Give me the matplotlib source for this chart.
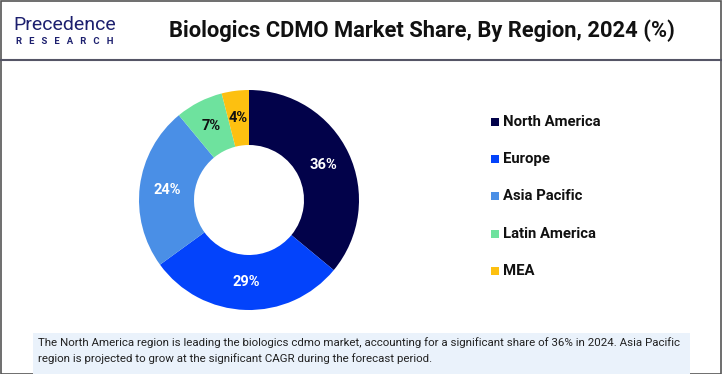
import matplotlib
matplotlib.use("Agg")
import matplotlib.pyplot as plt
from matplotlib.patches import Rectangle
from matplotlib.lines import Line2D

regions = ["North America", "Europe", "Asia Pacific", "Latin America", "MEA"]
shares = [36, 29, 24, 7, 4]
colors = ["#02024a", "#0343fb", "#4a8fe6", "#6ee29e", "#fdc010"]
label_colors = ["white", "white", "white", "#111111", "#111111"]

title = "Biologics CDMO Market Share, By Region, 2024 (%)"
note_lines = ["The North America region is leading the biologics cdmo market, accounting for a significant share of 36% in 2024. Asia Pacific",
              "region is projected to grow at the significant CAGR during the forecast period."]

W, H = 722, 374
fig = plt.figure(figsize=(W/100, H/100), dpi=100)
fig.patch.set_facecolor("white")
renderer = fig.canvas.get_renderer()

def fx(x): return x / W
def fy(y): return 1 - y / H

def fit(t, target_px):
    bb = t.get_window_extent(renderer=renderer)
    t.set_fontsize(t.get_fontsize() * target_px / bb.width)
    return t

# outer border
fig.add_artist(Rectangle((0.5/W, 0.5/H), 1 - 1.5/W, 1 - 1.5/H, transform=fig.transFigure,
                         fill=False, edgecolor="#555555", lw=1.2))
# header separator
fig.add_artist(Line2D([0, 1], [fy(60), fy(60)], transform=fig.transFigure, color="#555566", lw=1.5))

# logo
t = fig.text(fx(13), fy(25), "Precedence", fontsize=13, color="#1c1f6e", family="Roboto",
             va="center", ha="left")
fit(t, 102)
t = fig.text(fx(16), fy(41), "R   E   S   E   A   R   C   H", fontsize=6, color="#1c1f6e", family="Roboto",
             va="center", ha="left", fontweight="bold")
fit(t, 98)

# title
t = fig.text(fx(422), fy(31), title, fontsize=14, fontweight="bold", color="#111111",
             family="Roboto", va="center", ha="center")
fit(t, 508)

# note box
fig.add_artist(Rectangle((fx(33), 0), fx(690) - fx(33), fy(333), transform=fig.transFigure,
                         facecolor="#eaf2fb", edgecolor="none"))
t1 = fig.text(fx(38), fy(343), note_lines[0], fontsize=9, color="#222222",
              family="Roboto", va="center", ha="left")
fit(t1, 647)
fig.text(fx(38), fy(359), note_lines[1], fontsize=t1.get_fontsize(), color="#222222",
         family="Roboto", va="center", ha="left")

# donut
R = 110
cx, cy = 249, 200
ax = fig.add_axes([fx(cx - R), fy(cy + R), 2*R/W, 2*R/H])
wedges, _, autotexts = ax.pie(shares, colors=colors, startangle=90, counterclock=False,
                              radius=1, wedgeprops=dict(width=0.5, edgecolor="none"),
                              autopct=lambda p: f"{p:.0f}%", pctdistance=0.75)
for t, c in zip(autotexts, label_colors):
    t.set_color(c)
    t.set_fontsize(10.5)
    t.set_fontweight("bold")
    t.set_family("Roboto")
ax.set_xlim(-1, 1)
ax.set_ylim(-1, 1)
ax.set_aspect("equal")
ax.axis("off")

# legend
ys = [122, 159, 196, 234, 271]
legend_fs = None
for name, col, y in zip(regions, colors, ys):
    fig.add_artist(Rectangle((fx(491), fy(y + 4)), 8/W, 8/H, transform=fig.transFigure,
                             facecolor=col, edgecolor="none"))
    t = fig.text(fx(503), fy(y), name, fontsize=11, fontweight="bold", color="#111111",
                 family="Roboto", va="center", ha="left")
    if legend_fs is None:
        fit(t, 98)
        legend_fs = t.get_fontsize()
    else:
        t.set_fontsize(legend_fs)

fig.savefig("out.png", dpi=100)
